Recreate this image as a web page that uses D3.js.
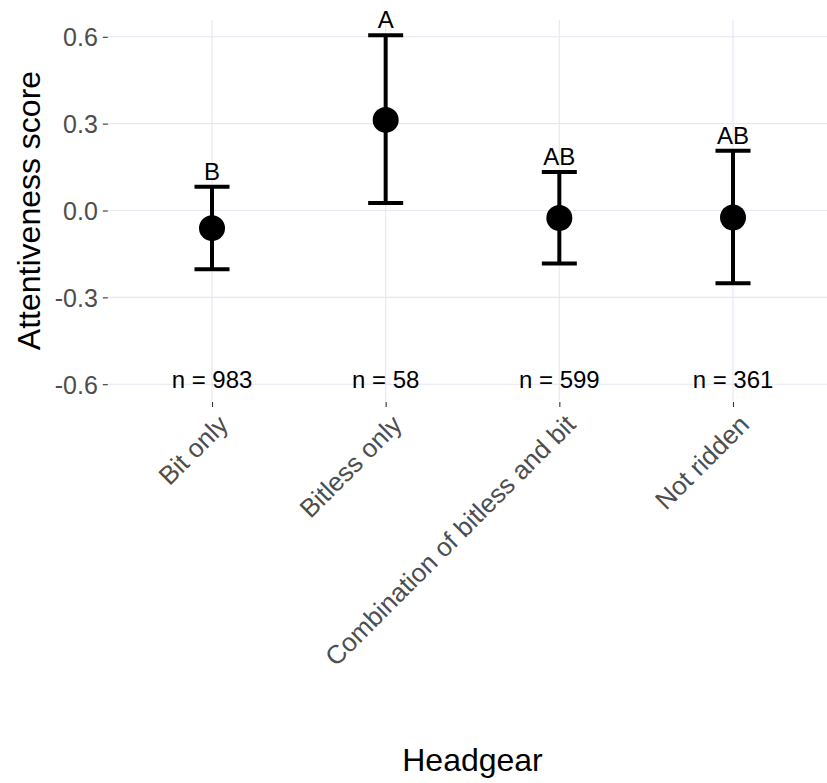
<!DOCTYPE html>
<html>
<head>
<meta charset="utf-8">
<script src="https://cdn.jsdelivr.net/npm/d3@7"></script>
<style>
  html, body { margin: 0; padding: 0; background: #ffffff; }
  svg { display: block; }
</style>
</head>
<body>
<svg id="chart" width="827" height="783"></svg>
<script>
// ---- data ----
const categories = ["Bit only", "Bitless only", "Combination of bitless and bit", "Not ridden"];
const means = [-0.061, 0.313, -0.026, -0.024];
const lowers = [-0.203, 0.026, -0.183, -0.251];
const uppers = [0.082, 0.605, 0.133, 0.206];
const letters = ["B", "A", "AB", "AB"];
const counts = ["n = 983", "n = 58", "n = 599", "n = 361"];
const yTicks = [-0.6, -0.3, 0.0, 0.3, 0.6];

const rows = categories.map((c, i) => ({
  cat: c, mean: means[i], lo: lowers[i], hi: uppers[i], letter: letters[i], n: counts[i]
}));

// ---- layout ----
const svg = d3.select("#chart");
const panel = { left: 107.8, right: 837.2, top: 20, bottom: 401 };
const font = "Arial, 'Liberation Sans', Helvetica, sans-serif";

const x = d3.scalePoint().domain(categories).range([panel.left, panel.right]).padding(0.6);
const y = d3.scaleLinear().domain([-0.658, 0.658]).range([panel.bottom, panel.top]);

// grid
const g = svg.append("g");
g.selectAll("line.hgrid").data(yTicks).enter().append("line")
  .attr("x1", panel.left).attr("x2", panel.right)
  .attr("y1", d => y(d)).attr("y2", d => y(d))
  .attr("stroke", "#e6e6f7").attr("stroke-width", 1.1);
g.selectAll("line.vgrid").data(categories).enter().append("line")
  .attr("x1", d => x(d)).attr("x2", d => x(d))
  .attr("y1", panel.top).attr("y2", panel.bottom)
  .attr("stroke", "#e6e6f7").attr("stroke-width", 1.1);

// y axis
const fmt = d3.format(".1f");
const yAxis = d3.axisLeft(y).tickValues(yTicks).tickSize(5).tickPadding(5)
  .tickFormat(d => fmt(d).replace("\u2212", "-"));
const ya = svg.append("g").attr("transform", `translate(${panel.left},0)`).call(yAxis);
ya.select(".domain").remove();
ya.selectAll(".tick line").attr("stroke", "#333333").attr("stroke-width", 1.1);
ya.selectAll(".tick text").attr("fill", "#4d4d4d").style("font-family", font).style("font-size", "25px")
  .attr("dy", "0.36em");

// x axis
const xAxis = d3.axisBottom(x).tickSize(5).tickPadding(4);
const xa = svg.append("g").attr("transform", `translate(0,${panel.bottom + 1})`).call(xAxis);
xa.select(".domain").remove();
xa.selectAll(".tick line").attr("stroke", "#333333").attr("stroke-width", 1.1);
xa.selectAll(".tick text")
  .attr("fill", "#4d4d4d").style("font-family", font).style("font-size", "26px")
  .attr("text-anchor", "end")
  .attr("x", 0).attr("y", 0).attr("dy", "0.72em")
  .attr("transform", "translate(4,11) rotate(-45)");

// error bars
const eb = svg.append("g");
eb.selectAll("line.stem").data(rows).enter().append("line")
  .attr("x1", d => x(d.cat)).attr("x2", d => x(d.cat))
  .attr("y1", d => y(d.lo)).attr("y2", d => y(d.hi))
  .attr("stroke", "#000").attr("stroke-width", 4);
["lo", "hi"].forEach(k => {
  eb.selectAll("line.cap" + k).data(rows).enter().append("line")
    .attr("x1", d => x(d.cat) - 17.5).attr("x2", d => x(d.cat) + 17.5)
    .attr("y1", d => y(d[k])).attr("y2", d => y(d[k]))
    .attr("stroke", "#000").attr("stroke-width", 4);
});
eb.selectAll("circle").data(rows).enter().append("circle")
  .attr("cx", d => x(d.cat)).attr("cy", d => y(d.mean)).attr("r", 13)
  .attr("fill", "#000");

// letters
svg.append("g").selectAll("text").data(rows).enter().append("text")
  .attr("x", d => x(d.cat)).attr("y", d => y(d.hi) - 7)
  .attr("text-anchor", "middle").style("font-family", font).style("font-size", "24px")
  .attr("fill", "#000").text(d => d.letter);

// counts
svg.append("g").selectAll("text").data(rows).enter().append("text")
  .attr("x", d => x(d.cat)).attr("y", y(-0.6) + 4)
  .attr("text-anchor", "middle").style("font-family", font).style("font-size", "24px")
  .attr("fill", "#000").text(d => d.n);

// axis titles
svg.append("text")
  .attr("transform", `translate(40,${(panel.top + panel.bottom) / 2}) rotate(-90)`)
  .attr("text-anchor", "middle").style("font-family", font).style("font-size", "32px")
  .attr("fill", "#000").text("Attentiveness score");
svg.append("text")
  .attr("x", (panel.left + panel.right) / 2).attr("y", 771)
  .attr("text-anchor", "middle").style("font-family", font).style("font-size", "32px")
  .attr("fill", "#000").text("Headgear");
</script>
</body>
</html>
